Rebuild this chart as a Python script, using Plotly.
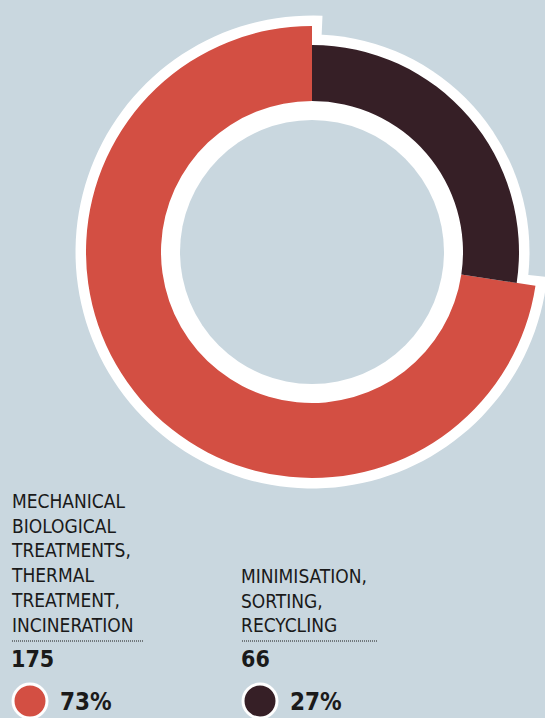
import numpy as np
import plotly.graph_objects as go

# ---- data ----
category_lines = [
    ["MECHANICAL", "BIOLOGICAL", "TREATMENTS,", "THERMAL", "TREATMENT,", "INCINERATION"],
    ["MINIMISATION,", "SORTING,", "RECYCLING"],
]
values = [175, 66]
colors = ["#D34F43", "#361F26"]

# ---- canvas / geometry (pixels) ----
W, H = 545, 718
BG = "#C9D7DF"
INK = "#1A1A1A"
FONT = "DejaVu Sans Condensed, Liberation Sans Narrow, Roboto, sans-serif"

CX, CY = 312, 252          # donut centre
R_AX = 230                 # radial axis range == polar radius in px
HOLE_R = 132               # grey hole
INNER_R = 151              # inner edge of the coloured ring
OUTER_R = [226, 207]       # outer radius per slice
BORDER = 10.5              # white rim outside the slices


def px(x):
    return x / W


def py(y):
    return 1 - y / H


def circle(cx, cy, r, fill, line_w=0, line_c="white", layer="below"):
    fig.add_shape(type="circle", xref="paper", yref="paper", layer=layer,
                  x0=px(cx - r), x1=px(cx + r), y0=py(cy + r), y1=py(cy - r),
                  fillcolor=fill, line=dict(color=line_c, width=line_w))


total = sum(values)
widths = np.array(values) / total * 360.0
starts = np.concatenate([[0.0], np.cumsum(widths)[:-1]])
centers = starts + widths / 2
percents = [round(v / total * 100) for v in values]

fig = go.Figure()

# white rim: a wedge behind the larger slice (slightly wider than it) and a
# disc for the smaller one; the grey hole is laid on top of both
r_rim = OUTER_R[0] + BORDER
ext = np.degrees(BORDER / r_rim)
arc = np.radians(90 + np.linspace(starts[0] - ext, starts[0] + widths[0] + ext, 120))
rim_x = CX + r_rim * np.cos(arc)
rim_y = CY - r_rim * np.sin(arc)
path = f"M {px(CX)},{py(CY)} " + " ".join(
    f"L {px(x):.5f},{py(y):.5f}" for x, y in zip(rim_x, rim_y)) + " Z"
fig.add_shape(type="path", path=path, xref="paper", yref="paper", layer="below",
              fillcolor="white", line=dict(width=0))
circle(CX, CY, OUTER_R[1] + BORDER, "white")
circle(CX, CY, HOLE_R, BG)

# coloured slices
fig.add_trace(go.Barpolar(
    theta=centers, width=widths, base=[INNER_R] * len(values),
    r=[o - INNER_R for o in OUTER_R],
    marker=dict(color=colors, line=dict(width=0)),
    customdata=values, hovertemplate="%{customdata}<extra></extra>",
    showlegend=False,
))

fig.update_layout(
    width=W, height=H, autosize=False,
    margin=dict(l=0, r=0, t=0, b=0),
    paper_bgcolor=BG, plot_bgcolor=BG,
    polar=dict(
        domain=dict(x=[px(CX - R_AX), px(CX + R_AX)],
                    y=[py(CY + R_AX), py(CY - R_AX)]),
        bgcolor="rgba(0,0,0,0)",
        barmode="overlay",
        hole=0,
        radialaxis=dict(range=[0, R_AX], visible=False),
        angularaxis=dict(visible=False, rotation=90, direction="counterclockwise"),
    ),
)

# ---- legend blocks ----
LABEL_SIZE = 19
NUM_SIZE = 23
PCT_SIZE = 24
DESC = 0.24
col_x = [12, 242]
rule_x1 = [143, 377]
label_base = 632
rule_y = 641
num_base = 667
pct_base = 711
dot_cy = 701
dot_r = 17


def text_at(x, baseline, text, size, bold=False):
    if bold:
        text = f"<b>{text}</b>"
    fig.add_annotation(
        x=px(x - 3), y=py(baseline + DESC * size + 1),
        xref="paper", yref="paper", xanchor="left", yanchor="bottom",
        text=text, showarrow=False, align="left",
        font=dict(family=FONT, size=size, color=INK),
    )


for i, lines in enumerate(category_lines):
    x0 = col_x[i]
    text_at(x0, label_base, "<br>".join(lines), LABEL_SIZE)
    fig.add_shape(type="line", xref="paper", yref="paper",
                  x0=px(x0), x1=px(rule_x1[i]), y0=py(rule_y), y1=py(rule_y),
                  line=dict(color=INK, width=1, dash="1px,1px"))
    text_at(x0, num_base, str(values[i]), NUM_SIZE, bold=True)
    circle(x0 + 18, dot_cy, dot_r, colors[i], line_w=3, layer="above")
    text_at(x0 + 49, pct_base, f"{percents[i]}%", PCT_SIZE, bold=True)

fig.write_html("out.html")
